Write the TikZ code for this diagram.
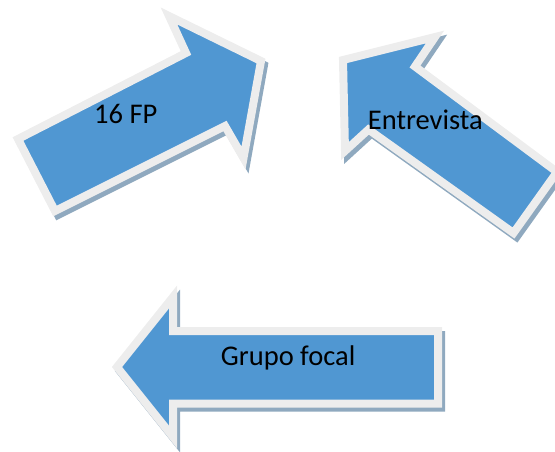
\documentclass[tikz,border=0pt]{standalone}
\usepackage{fontspec}
\setmainfont{Carlito}
\definecolor{arrowblue}{HTML}{5097D2}
\definecolor{arrowrim}{HTML}{EDEDED}
\definecolor{arrowshade}{HTML}{8FA9BF}
\newcommand{\blockarrow}[1]{%
  \filldraw[arrowshade, line width=8, shift={(3,4)}] #1;
  \filldraw[fill=arrowblue, draw=arrowrim, line width=8] #1;
}

\begin{document}
\begin{tikzpicture}[x=1pt, y=-1pt]
    \tikzstyle{every node}=[inner sep=0pt, anchor=base west, font=\fontsize{28.5}{34}\selectfont];
    \useasboundingbox (0,0) rectangle (555,452);
    % Arrows
    \blockarrow{(55,211) -- (18,139) -- (186,53) -- (169,16) -- (261,61) -- (243.5,158) -- (225,126) -- cycle}
    \blockarrow{(343,60) -- (435,37) -- (415,66.5) -- (557,172) -- (513.5,233) -- (368.5,129.5) -- (345,151) -- cycle}
    \blockarrow{(117,367) -- (173,297) -- (173,331) -- (438,331) -- (438,403.5) -- (173,403.5) -- (173,437) -- cycle}
    % Labels
    \node (fp) at (94,123.3) {16 FP};
    \node (entrevista) at (367.7,129.3) {Entrevista};
    \node (grupo) at (220.7,365.7) {Grupo focal};
\end{tikzpicture}
\end{document}
